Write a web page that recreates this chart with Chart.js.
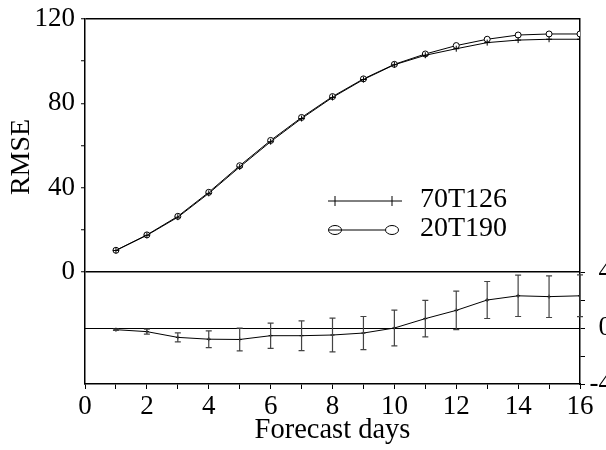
<!DOCTYPE html>
<html>
<head>
<meta charset="utf-8">
<script src="https://cdn.jsdelivr.net/npm/chart.js@4.4.0/dist/chart.umd.min.js"></script>
<style>
  html, body { margin: 0; padding: 0; background: #fff; overflow: hidden; }
  #wrap { width: 606px; height: 450px; position: relative; overflow: hidden; }
</style>
</head>
<body>
<div id="wrap"><canvas id="c" width="612" height="450"></canvas></div>
<script>
// ---- data ----
const days = [1, 2, 3, 4, 5, 6, 7, 8, 9, 10, 11, 12, 13, 14, 15, 16];
const rmse70T126 = [10.2, 17.4, 26.0, 37.3, 49.8, 61.8, 72.8, 82.8, 91.3, 98.3, 102.8, 105.9, 108.8, 110.0, 110.4, 110.4];
const rmse20T190 = [10.3, 17.6, 26.4, 37.8, 50.4, 62.4, 73.3, 83.2, 91.6, 98.5, 103.4, 107.4, 110.4, 112.4, 112.9, 112.9];
const diffMean = [-0.12, -0.26, -0.67, -0.80, -0.82, -0.55, -0.55, -0.50, -0.36, 0.00, 0.67, 1.26, 2.00, 2.30, 2.24, 2.30];
const diffErr = [0.05, 0.18, 0.32, 0.60, 0.81, 0.90, 1.06, 1.20, 1.18, 1.27, 1.31, 1.37, 1.32, 1.48, 1.49, 1.49];
const xTicks = [0, 1, 2, 3, 4, 5, 6, 7, 8, 9, 10, 11, 12, 13, 14, 15, 16];
const rmseTicks = [0, 20, 40, 60, 80, 100, 120];
const rmseLabelTicks = [0, 40, 80, 120];
const diffTicks = [-4, -2, 0, 2, 4];
const diffLabelTicks = [-4, 0, 4];
const seriesNames = ['70T126', '20T190'];

const FONT = '"Liberation Serif", "Times New Roman", serif';
const TOP_FRAC = 253 / 365;   // share of plot height used by the RMSE panel
const rmseMax = 120;
const rmseMin = -rmseMax * (1 - TOP_FRAC) / TOP_FRAC;
const diffMin = -4, diffSpan = 8;
const diffMax = diffMin + diffSpan / (1 - TOP_FRAC);

const pts = (ys) => days.map((d, i) => ({ x: d, y: ys[i] }));

const errorBars = {
  id: 'errorBars',
  afterDatasetsDraw(chart) {
    const { ctx, scales } = chart;
    const xs = scales.x, ys = scales.yBot;
    ctx.save();
    ctx.strokeStyle = '#444';
    ctx.lineWidth = 1.2;
    days.forEach((d, i) => {
      const x = xs.getPixelForValue(d);
      const y1 = ys.getPixelForValue(diffMean[i] + diffErr[i]);
      const y2 = ys.getPixelForValue(diffMean[i] - diffErr[i]);
      ctx.beginPath();
      ctx.moveTo(x, y1); ctx.lineTo(x, y2);
      ctx.moveTo(x - 3, y1); ctx.lineTo(x + 3, y1);
      ctx.moveTo(x - 3, y2); ctx.lineTo(x + 3, y2);
      ctx.stroke();
    });
    ctx.restore();
  }
};

const extras = {
  id: 'extras',
  afterDraw(chart) {
    const { ctx } = chart;
    ctx.save();
    // y title
    ctx.fillStyle = '#000';
    ctx.font = '28px ' + FONT;
    ctx.textAlign = 'center';
    ctx.textBaseline = 'middle';
    ctx.translate(22, 157);
    ctx.rotate(-Math.PI / 2);
    ctx.fillText('RMSE', 0, 0);
    ctx.restore();

    // legend
    ctx.save();
    ctx.strokeStyle = '#000';
    ctx.fillStyle = '#000';
    ctx.lineWidth = 1;
    const lx1 = 335, lx2 = 392, ly1 = 201, ly2 = 230;
    ctx.beginPath();
    ctx.moveTo(328, ly1); ctx.lineTo(402, ly1);
    [lx1, lx2].forEach(x => { ctx.moveTo(x, ly1 - 5); ctx.lineTo(x, ly1 + 5); });
    ctx.stroke();
    ctx.beginPath();
    ctx.moveTo(lx1 + 6, ly2); ctx.lineTo(lx2 - 7, ly2);
    ctx.stroke();
    [lx1, lx2].forEach(x => {
      ctx.beginPath();
      ctx.ellipse(x, ly2, 6.5, 4.5, 0, 0, Math.PI * 2);
      ctx.stroke();
    });
    ctx.beginPath();
    ctx.moveTo(lx1 - 6, ly2); ctx.lineTo(lx1 + 6, ly2);
    ctx.stroke();
    ctx.font = '28px ' + FONT;
    ctx.textAlign = 'left';
    ctx.textBaseline = 'middle';
    ctx.fillText(seriesNames[0], 420, ly1 - 1);
    ctx.fillText(seriesNames[1], 420, ly2 - 1);
    ctx.restore();
  }
};

new Chart(document.getElementById('c'), {
  type: 'line',
  data: {
    datasets: [
      {
        label: seriesNames[0], data: pts(rmse70T126), yAxisID: 'yTop',
        borderColor: '#000', borderWidth: 1, pointStyle: 'cross', pointRadius: 3,
        pointBorderColor: '#000', pointBorderWidth: 1, tension: 0
      },
      {
        label: seriesNames[1], data: pts(rmse20T190), yAxisID: 'yTop',
        borderColor: '#000', borderWidth: 1, pointStyle: 'circle', pointRadius: 3,
        pointBackgroundColor: '#fff', pointBorderColor: '#000', pointBorderWidth: 1, tension: 0
      },
      {
        label: 'diff', data: pts(diffMean), yAxisID: 'yBot',
        borderColor: '#000', borderWidth: 1, pointStyle: 'cross', pointRadius: 2,
        pointBorderColor: '#000', pointBorderWidth: 1, tension: 0
      }
    ]
  },
  options: {
    responsive: false,
    animation: false,
    devicePixelRatio: 1,
    layout: { padding: { top: 19, left: 0, right: 0, bottom: 0 } },
    plugins: { legend: { display: false }, tooltip: { enabled: false } },
    scales: {
      x: {
        type: 'linear', min: 0, max: 16,
        afterBuildTicks: (s) => { s.ticks = xTicks.map(v => ({ value: v })); },
        afterFit: (s) => { s.height = 66; s.paddingLeft = 0; s.paddingRight = 0; },
        ticks: {
          autoSkip: false, maxRotation: 0, color: '#000', padding: 2,
          font: { family: FONT, size: 27 },
          callback: (v) => (v % 2 === 0 ? String(v) : '')
        },
        grid: { drawOnChartArea: false, tickLength: 5, tickColor: '#000', tickWidth: 1 },
        border: { color: '#000', width: 1.5 },
        title: { display: true, text: 'Forecast days', color: '#000', font: { family: FONT, size: 28.5 }, padding: { top: 0, bottom: 2 } }
      },
      yTop: {
        type: 'linear', position: 'left', min: rmseMin, max: rmseMax,
        afterBuildTicks: (s) => { s.ticks = rmseTicks.map(v => ({ value: v })); },
        afterFit: (s) => { s.width = 85; s.paddingTop = 0; s.paddingBottom = 0; },
        ticks: {
          autoSkip: false, color: '#000', padding: 6,
          font: { family: FONT, size: 27 },
          callback: (v) => (rmseLabelTicks.includes(v) ? String(v) : '')
        },
        grid: {
          drawOnChartArea: true, tickLength: 4, tickColor: '#000', tickWidth: 1, lineWidth: 1.5,
          color: (c) => (c.tick && (c.tick.value === 0 || c.tick.value === 120) ? '#000' : 'rgba(0,0,0,0)')
        },
        border: { color: '#000', width: 1.5 }
      },
      yBot: {
        type: 'linear', position: 'right', min: diffMin, max: diffMax,
        afterBuildTicks: (s) => { s.ticks = diffTicks.map(v => ({ value: v })); },
        afterFit: (s) => { s.width = 32; s.paddingTop = 0; s.paddingBottom = 0; },
        ticks: {
          autoSkip: false, color: '#000', padding: 4, crossAlign: 'far',
          font: { family: FONT, size: 27 },
          callback: (v) => (diffLabelTicks.includes(v) ? String(v) : '')
        },
        grid: {
          drawOnChartArea: true, tickLength: 5, tickColor: '#000', tickWidth: 1, lineWidth: 1,
          color: (c) => (c.tick && c.tick.value === 0 ? '#000' : 'rgba(0,0,0,0)')
        },
        border: { color: '#000', width: 1.5 }
      }
    }
  },
  plugins: [errorBars, extras]
});
</script>
</body>
</html>
